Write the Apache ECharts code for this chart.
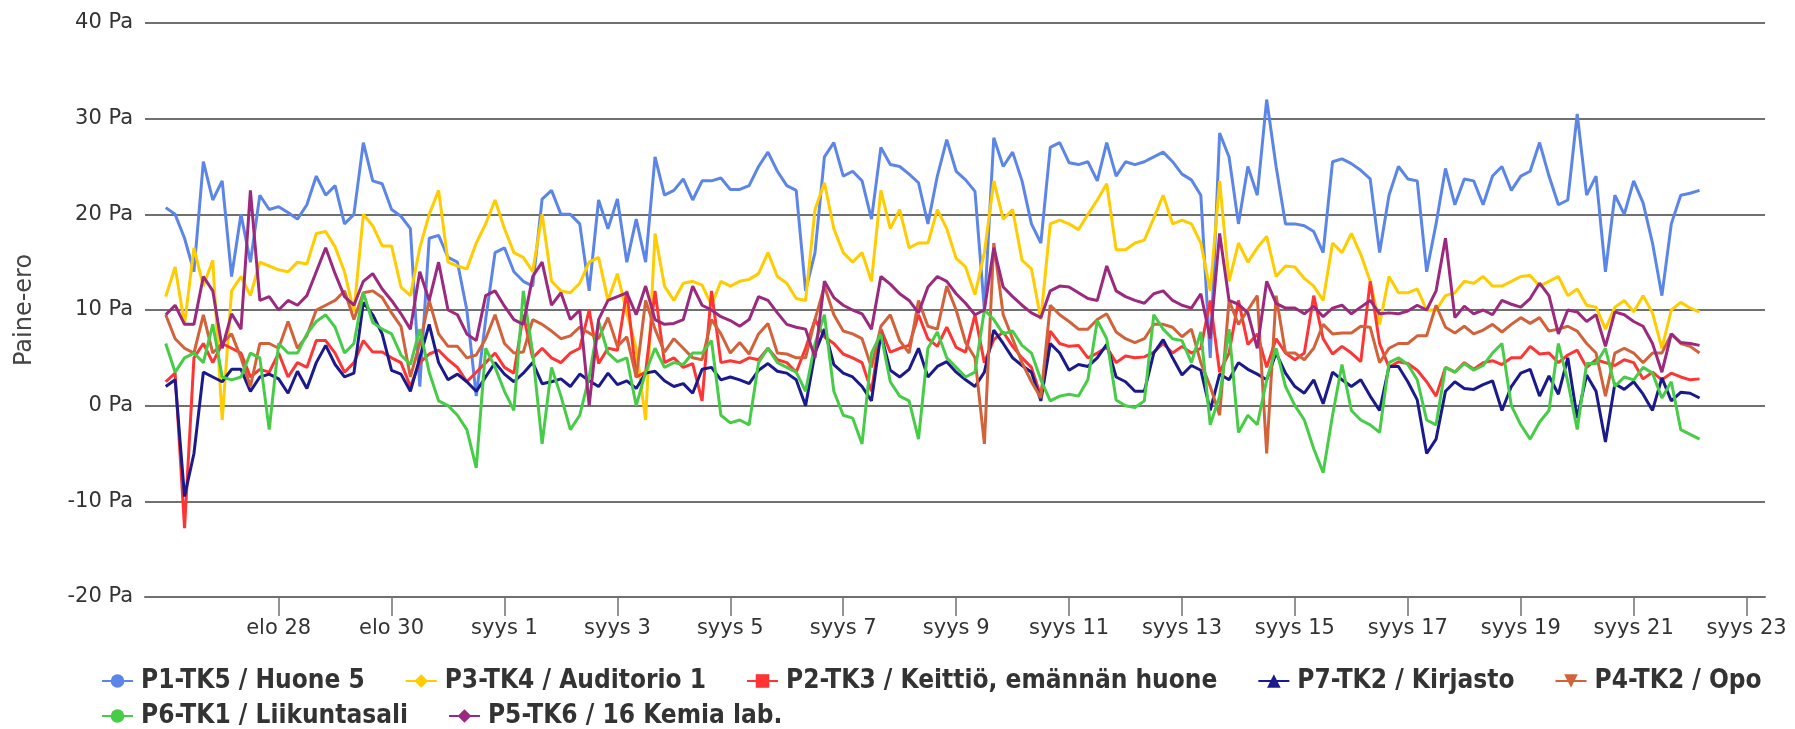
<!DOCTYPE html>
<html><head><meta charset="utf-8">
<script src="https://cdn.jsdelivr.net/npm/echarts@6/dist/echarts.min.js"></script>
<style>html,body{margin:0;padding:0;background:#fff}#c{width:1795px;height:729px}</style>
</head><body><div id="c"></div>
<script>
// x = days since 26.8. 00:00, one sample every 4 hours
const STEP_DAYS = 1 / 6;
const tickDays = [2, 4, 6, 8, 10, 12, 14, 16, 18, 20, 22, 24, 26, 28];
const tickLabels = ['elo 28', 'elo 30', 'syys 1', 'syys 3', 'syys 5', 'syys 7', 'syys 9', 'syys 11', 'syys 13', 'syys 15', 'syys 17', 'syys 19', 'syys 21', 'syys 23'];
const seriesNames = ['P1-TK5 / Huone 5', 'P3-TK4 / Auditorio 1', 'P2-TK3 / Keittiö, emännän huone', 'P7-TK2 / Kirjasto', 'P4-TK2 / Opo', 'P6-TK1 / Liikuntasali', 'P5-TK6 / 16 Kemia lab.'];

const p1 = [20.7, 20.0, 17.5, 14, 25.5, 21.5, 23.5, 13.5, 20, 15,
 22, 20.5, 20.8, 20.2, 19.5, 21, 24, 22, 23, 19,
 20, 27.5, 23.5, 23.2, 20.5, 19.8, 18.5, 2, 17.5, 17.8,
 15.5, 15, 10, 1, 9, 16, 16.5, 14, 13, 12.5,
 21.6, 22.5, 20, 20, 19, 12, 21.5, 18.5, 21.6, 15,
 19.5, 15, 26, 22, 22.5, 23.7, 21.5, 23.5, 23.5, 23.8,
 22.6, 22.6, 23, 25, 26.5, 24.5, 23, 22.5, 12, 16,
 26, 27.5, 24, 24.5, 23.5, 19.5, 27, 25.2, 25, 24.2,
 23.3, 19, 24, 27.8, 24.5, 23.6, 22.4, 10, 28, 25,
 26.5, 23.5, 19, 17, 27, 27.5, 25.4, 25.2, 25.5, 23.5,
 27.5, 24, 25.5, 25.2, 25.5, 26, 26.5, 25.5, 24.2, 23.6,
 22, 5, 28.5, 26, 19, 25, 22, 32, 25, 19,
 19, 18.8, 18.2, 16, 25.5, 25.8, 25.3, 24.6, 23.7, 16,
 22, 25, 23.7, 23.5, 14, 19, 24.8, 21, 23.7, 23.5,
 21, 24, 25, 22.5, 24, 24.5, 27.5, 24, 21, 21.5,
 30.5, 22, 24, 14, 22, 20, 23.5, 21.2, 17, 11.5,
 19, 22, 22.2, 22.5];

const p3 = [11.4, 14.5, 8.5, 16.5, 12.5, 15.2, -1.5, 12, 13.5, 11.5,
 15, 14.6, 14.2, 14, 15, 14.8, 18, 18.2, 16.6, 14,
 9.8, 20, 18.8, 16.7, 16.7, 12.4, 11.5, 16.5, 20, 22.5,
 15, 14.6, 14.3, 17, 19, 21.5, 18.5, 16, 15.5, 14,
 20, 13, 12, 11.8, 12.8, 15, 15.5, 11, 13.8, 9.7,
 6, -1.5, 18, 12.5, 11, 12.8, 13, 12.6, 10.5, 13,
 12.5, 13, 13.2, 13.8, 16, 13.5, 12.8, 11.2, 11, 20.5,
 23.3, 18.5, 16, 15, 16, 13, 22.5, 18.5, 20.5, 16.5,
 17, 17, 20.5, 18.5, 15.4, 14.5, 11.6, 16, 23.5, 19.5,
 20.5, 15.2, 14.3, 9, 19, 19.4, 19, 18.4, 20, 21.5,
 23.2, 16.3, 16.3, 17, 17.3, 19.6, 22, 19, 19.4, 19,
 17, 12, 23.5, 13, 17, 15, 16.5, 17.7, 13.5, 14.6,
 14.5, 13.3, 12.5, 11, 17, 16, 18, 15.8, 13, 8.5,
 13.5, 11.8, 11.8, 12.2, 10, 10, 11.5, 11.8, 13, 12.8,
 13.5, 12.5, 12.5, 13, 13.5, 13.6, 12.5, 13, 13.5, 11.5,
 12.2, 10.5, 10.3, 8, 10.3, 11, 9.8, 11.5, 9.7, 6,
 10, 10.8, 10.2, 9.8];

const p2 = [2.5, 3.4, -12.8, 5, 6.5, 4.5, 6.5, 6, 5.5, 3,
 3.8, 3.5, 5.5, 3, 4.5, 4, 6.8, 6.8, 5.5, 3.5,
 4.5, 6.8, 5.6, 5.6, 5, 4.5, 2, 4.5, 5.4, 5.8,
 4.8, 4, 2.5, 3.5, 4.5, 5.5, 4, 3.4, 9.5, 5,
 6, 5, 4.5, 5.5, 6, 10, 4.4, 6, 5.8, 12,
 3, 3.5, 12, 4.5, 5, 4, 4.4, 0.5, 12, 4.5,
 4.7, 4.5, 5, 4.8, 6, 4.8, 4.5, 3.5, 6, 9,
 7.2, 6.5, 5.4, 5, 4.5, 1.5, 8, 5.6, 6, 6.3,
 9.5, 7, 6.2, 8.2, 6.1, 5.6, 9.5, 4.5, 6.9, 7.7,
 6.2, 5, 4, 1, 7.8, 6.5, 6.2, 6.3, 5, 5.5,
 6.1, 4.5, 5.2, 5, 5.1, 5.6, 6.5, 5.5, 6.2, 5.5,
 6, 11, 3.5, 5.5, 11, 6.4, 7.5, 4, 7, 5.5,
 4.8, 5.5, 11.5, 7, 5.4, 6.2, 5.5, 4.6, 13, 6.5,
 4, 4.6, 4.4, 3.7, 2.5, 1, 4, 3.5, 4.5, 3.8,
 4.5, 4.7, 4.3, 5, 5, 6.2, 5.4, 5.5, 4.5, 5.3,
 5.8, 4, 4.8, 4.5, 4.2, 4.8, 4.5, 2.8, 3.5, 2.7,
 3.4, 3.0, 2.7, 2.8];

const p7 = [2, 2.7, -9.5, -5, 3.5, 3, 2.5, 3.8, 3.8, 1.5,
 3, 3.3, 2.8, 1.3, 3.6, 1.8, 4.5, 6.3, 4.3, 3,
 3.4, 10.8, 9.5, 7.5, 3.7, 3.3, 1.5, 5, 8.5, 4.5,
 2.7, 3.3, 2.5, 1.5, 3, 4.5, 3.3, 2.5, 3.4, 4.5,
 2.3, 2.5, 2.8, 2, 3.3, 2.6, 2, 3.4, 2.2, 2.6,
 1.8, 3.4, 3.6, 2.6, 2, 2.3, 1.3, 3.8, 4, 2.7,
 3, 2.7, 2.3, 3.7, 4.4, 3.6, 3.4, 2.7, 0, 5.5,
 8, 4.3, 3.4, 3, 2, 0.5, 7.5, 3.7, 3, 3.8,
 6, 3, 4.1, 4.6, 3.5, 2.7, 2, 3.5, 7.9, 6.5,
 5, 4.2, 3.5, 0.5, 6.5, 5.5, 3.7, 4.3, 4.1, 5,
 6.4, 3, 2.5, 1.5, 1.5, 5.5, 6.9, 5, 3.2, 4.2,
 3.7, -0.5, 3.3, 2.7, 4.5, 3.8, 3.3, 2.7, 5.5, 3.4,
 2, 1.3, 2.7, 0.2, 3.5, 2.7, 2, 2.7, 1, -0.5,
 4.1, 4.1, 2.5, 0.6, -5, -3.5, 1.5, 2.5, 1.8, 1.7,
 2.2, 2.6, -0.5, 2, 3.4, 3.8, 1, 3.1, 1.2, 5,
 -1.3, 3.2, 1.5, -3.8, 2.3, 1.7, 2.5, 1.2, -0.5, 2.9,
 0.5, 1.4, 1.3, 0.8];

const p4 = [9.5, 7, 6, 5.5, 9.5, 5.5, 6.5, 7.5, 5, 2,
 6.5, 6.5, 6, 8.8, 6, 7.3, 10, 10.5, 11, 12,
 9, 11.8, 12, 11.3, 9.7, 8.3, 3, 6.5, 11, 7.5,
 6.2, 6.2, 5, 5.3, 7, 9.5, 6.5, 5.5, 5.6, 9,
 8.5, 7.8, 7, 7.3, 8.2, 7.6, 7, 9.2, 6.2, 7.2,
 3, 11, 8, 5.6, 7, 6, 5, 4.8, 9, 7.5,
 5.5, 6.6, 5.4, 7.5, 8.6, 5.5, 5.4, 5, 5, 9,
 12.5, 9.5, 7.8, 7.5, 7, 4, 8.3, 9.5, 6.8, 5.5,
 11, 8.3, 8, 12.5, 10, 6.6, 5, -4, 17, 9.5,
 7, 4.5, 2.5, 0.8, 10.5, 9.5, 8.8, 8, 8, 9,
 9.6, 7.7, 7, 6.6, 7, 8.5, 8.5, 8.2, 7.2, 8,
 4.5, 2, -1, 11, 8.5, 10, 11.5, -5, 11.5, 5.5,
 5.5, 4.8, 6, 8.5, 7.5, 7.6, 7.6, 8.3, 8.2, 4.5,
 6, 6.5, 6.5, 7.3, 7.3, 10.5, 8.2, 7.6, 8.3, 7.5,
 7.9, 8.5, 7.7, 8.5, 9.2, 8.6, 9.2, 7.8, 8, 8.3,
 7.8, 6.5, 5.5, 1, 5.5, 6, 5.5, 4.5, 5.5, 5.5,
 7.5, 6.5, 6.2, 5.5];

const p6 = [6.5, 3.5, 5, 5.5, 4.5, 8.5, 3, 2.7, 3, 5.5,
 5, -2.5, 6.5, 5.5, 5.5, 7.5, 8.8, 9.5, 8.2, 5.5,
 6.5, 11.8, 8.7, 8, 7.5, 5.3, 4.3, 8, 3.5, 0.5,
 0, -1, -2.5, -6.5, 6, 4, 1.5, -0.5, 12, 5.5,
 -4, 4, 1, -2.5, -1, 3, 8.8, 5.5, 4.6, 5,
 0, 3.5, 6, 4, 4.5, 4.3, 5.5, 5.5, 6.8, -1,
 -1.8, -1.5, -2, 4.5, 6, 4.5, 4, 3.5, 1.5, 6.5,
 9.5, 1.5, -1, -1.3, -4, 5.5, 7.5, 2.5, 1, 0.5,
 -3.5, 6, 7.7, 5, 4, 3, 3.5, 10, 9, 7.5,
 7.8, 6.3, 5.5, 2.7, 0.5, 1, 1.2, 1, 2.7, 8.9,
 7, 0.6, 0, -0.2, 0.5, 9.5, 8, 7, 6.8, 4.5,
 7.7, -2, 1, 8, -2.8, -1, -2, 2.7, 6, 2,
 0, -1.5, -4.5, -7, -1, 4.3, -0.5, -1.5, -2, -2.8,
 4.5, 5, 4.3, 2.7, -1.5, -2, 4, 3.5, 4.4, 3.7,
 4.2, 5.5, 6.5, 0, -2, -3.5, -1.7, -0.5, 6.5, 2.5,
 -2.5, 4.4, 4.4, 6, 2, 3, 2.7, 4, 3.4, 0.8,
 2.5, -2.5, -3, -3.5];

const p5 = [9.5, 10.5, 8.5, 8.5, 13.5, 12, 6, 9.6, 8, 22.5,
 11, 11.4, 10, 11, 10.5, 11.5, 14, 16.5, 13.8, 11.4,
 10.5, 13, 13.8, 12.2, 11, 9.6, 8, 14, 11, 15,
 10, 9.5, 7.5, 6.8, 11.5, 12, 10.4, 9, 8.5, 13.5,
 15, 10.5, 11.8, 9, 10, 0, 9, 11, 11.4, 11.8,
 9.5, 12.5, 9, 8.5, 8.6, 9, 12.5, 10.5, 10, 9.3,
 8.9, 8.3, 9, 11.4, 11, 9.7, 8.5, 8.2, 8, 5,
 13, 11.3, 10.5, 10, 9.6, 8, 13.5, 12.7, 11.7, 11,
 9.7, 12.4, 13.5, 13, 11.7, 10.7, 9.5, 10, 16.5, 12.4,
 11.4, 10.5, 9.7, 9.2, 12, 12.5, 12.4, 11.8, 11.2, 11,
 14.6, 12, 11.4, 11, 10.7, 11.7, 12, 11, 10.5, 10.2,
 11.7, 7, 18, 11, 10.6, 9.7, 6, 13, 10.7, 10.2,
 10.2, 9.6, 10.4, 9.3, 10.2, 10.5, 9.6, 10.3, 11, 9.6,
 9.7, 9.6, 9.9, 10.5, 10, 12, 17.5, 9.2, 10.4, 9.6,
 10, 9.5, 11, 10.6, 10.3, 11.2, 12.8, 11.5, 7.5, 10,
 9.8, 8.8, 9.5, 6.2, 9.8, 9.5, 8.8, 8.3, 6.5, 3.5,
 7.5, 6.6, 6.5, 6.3];

const seriesValues = [p1, p3, p2, p7, p4, p6, p5];
const seriesColors = ['#5c85e8', '#ffcc00', '#ff3535', '#1a1a8c', '#d2623a', '#47cc47', '#9b2a7e'];
const seriesSymbols = ['circle', 'diamond', 'rect', 'triangle', 'path://M0,0 L10,0 L5,9 Z', 'circle', 'diamond'];

const chart = echarts.init(document.getElementById('c'), null, { renderer: 'canvas' });
const legendText = { fontFamily: 'DejaVu Sans Condensed, DejaVu Sans', fontWeight: 'bold', fontSize: 26, color: '#333', padding: [0, 0, 0, 3] };
const legendCommon = { itemGap: 40, itemWidth: 31, itemHeight: 17, width: 4000, orient: 'horizontal', textStyle: legendText, inactiveColor: '#ccc' };

chart.setOption({
  animation: false,
  backgroundColor: '#fff',
  grid: { left: 145, right: 30, top: 23, bottom: 132, containLabel: false },
  xAxis: {
    type: 'value', min: -0.367, max: 28.326,
    splitLine: { show: false },
    axisLine: { show: true, onZero: false, lineStyle: { color: '#707070', width: 2 } },
    axisTick: { show: true, length: 19, lineStyle: { color: '#707070', width: 1.5 }, customValues: tickDays },
    axisLabel: {
      customValues: tickDays, margin: 21,
      fontFamily: 'DejaVu Sans', fontSize: 21, color: '#333',
      formatter: function (v) { const k = tickDays.indexOf(Math.round(v)); return k >= 0 ? tickLabels[k] : ''; }
    }
  },
  yAxis: {
    type: 'value', min: -20, max: 40, interval: 10,
    axisLine: { show: false }, axisTick: { show: false },
    splitLine: { show: true, lineStyle: { color: '#707070', width: 2 } },
    axisLabel: { margin: 12, fontFamily: 'DejaVu Sans', fontSize: 21, color: '#333', formatter: '{value} Pa' }
  },
  graphic: [{
    type: 'text', x: 25, y: 310, rotation: Math.PI / 2,
    style: { text: 'Paine-ero', fontFamily: 'DejaVu Sans', fontSize: 24, fill: '#444', align: 'center', verticalAlign: 'middle' }
  }],
  legend: [
    Object.assign({ data: seriesNames.slice(0, 5), left: 96, top: 663 }, legendCommon),
    Object.assign({ data: seriesNames.slice(5), left: 96, top: 698 }, legendCommon)
  ],
  series: seriesNames.map(function (name, s) {
    return {
      name: name, type: 'line', showSymbol: false, symbol: seriesSymbols[s], symbolSize: 13,
      color: seriesColors[s], lineStyle: { width: 3, color: seriesColors[s] },
      data: seriesValues[s].map(function (v, i) { return [i * STEP_DAYS, v]; })
    };
  })
});
</script></body></html>
